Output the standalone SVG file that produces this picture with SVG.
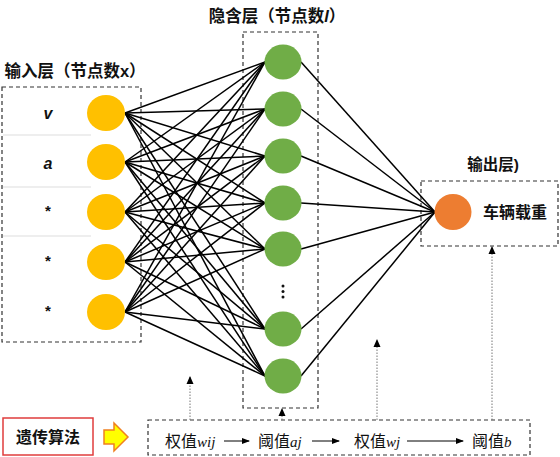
<svg xmlns="http://www.w3.org/2000/svg" width="560" height="457" viewBox="0 0 560 457">
<defs>
<style>
.box{fill:none;stroke:#333;stroke-width:1.2;stroke-dasharray:4,3}
.t{font-family:"Liberation Sans","Noto Sans CJK SC",sans-serif;font-weight:bold;fill:#111}
.n{font-family:"Liberation Sans","Noto Sans CJK SC",sans-serif;fill:#111;font-size:16px}
.v{font-family:"Liberation Serif","Noto Sans CJK SC",serif;font-style:italic;font-size:15px}
.in{fill:#FFC000}
.hid{fill:#70AD47}
.c line{stroke:#000;stroke-width:1.5}
.dot{stroke:#777;stroke-width:1;stroke-dasharray:1.5,1.5;fill:none}
.sep{stroke:#ddd;stroke-width:1}
.ar{stroke:#000;stroke-width:1;fill:none}
</style>
<marker id="ah" markerWidth="8" markerHeight="8" refX="7" refY="4" orient="auto" markerUnits="userSpaceOnUse">
<path d="M0,1 L8,4 L0,7 Z" fill="#000"/>
</marker>
<marker id="au" markerWidth="8" markerHeight="8" refX="7" refY="4" orient="auto" markerUnits="userSpaceOnUse">
<path d="M0,0.5 L8,4 L0,7.5 Z" fill="#000"/>
</marker>
</defs>
<rect width="560" height="457" fill="#fff"/>

<!-- titles -->
<text class="t" x="75" y="77" font-size="16.5" text-anchor="middle">输入层（节点数x）</text>
<text class="t" x="277" y="22" font-size="16.5" text-anchor="middle">隐含层（节点数<tspan font-style="italic">l</tspan>）</text>
<text class="t" x="493" y="170" font-size="15.5" text-anchor="middle">输出层)</text>

<!-- boxes -->
<g id="input-layer">
<rect class="box" x="2" y="87" width="139" height="255"/>
<line class="sep" x1="3" y1="135" x2="91" y2="135"/>
<line class="sep" x1="3" y1="187" x2="91" y2="187"/>
<line class="sep" x1="3" y1="236" x2="91" y2="236"/>
<text class="t" x="48" y="119" font-size="16" font-style="italic" text-anchor="middle">v</text>
<text class="t" x="48" y="169" font-size="16" font-style="italic" text-anchor="middle">a</text>
<text class="t" x="48" y="216" font-size="15" text-anchor="middle">*</text>
<text class="t" x="48" y="266" font-size="15" text-anchor="middle">*</text>
<text class="t" x="48" y="316" font-size="15" text-anchor="middle">*</text>
</g>
<rect class="box" x="243" y="32" width="75" height="376"/>
<rect class="box" x="421" y="181" width="137" height="65"/>

<!-- connectors -->
<g id="connectors" class="c">
<line x1="125" y1="113" x2="265" y2="62"/><line x1="125" y1="113" x2="265" y2="109"/><line x1="125" y1="113" x2="265" y2="156"/><line x1="125" y1="113" x2="265" y2="203"/><line x1="125" y1="113" x2="265" y2="249"/><line x1="125" y1="113" x2="265" y2="329"/><line x1="125" y1="113" x2="265" y2="376"/>
<line x1="125" y1="162" x2="265" y2="62"/><line x1="125" y1="162" x2="265" y2="109"/><line x1="125" y1="162" x2="265" y2="156"/><line x1="125" y1="162" x2="265" y2="203"/><line x1="125" y1="162" x2="265" y2="249"/><line x1="125" y1="162" x2="265" y2="329"/><line x1="125" y1="162" x2="265" y2="376"/>
<line x1="125" y1="212" x2="265" y2="62"/><line x1="125" y1="212" x2="265" y2="109"/><line x1="125" y1="212" x2="265" y2="156"/><line x1="125" y1="212" x2="265" y2="203"/><line x1="125" y1="212" x2="265" y2="249"/><line x1="125" y1="212" x2="265" y2="329"/><line x1="125" y1="212" x2="265" y2="376"/>
<line x1="125" y1="262" x2="265" y2="62"/><line x1="125" y1="262" x2="265" y2="109"/><line x1="125" y1="262" x2="265" y2="156"/><line x1="125" y1="262" x2="265" y2="203"/><line x1="125" y1="262" x2="265" y2="249"/><line x1="125" y1="262" x2="265" y2="329"/><line x1="125" y1="262" x2="265" y2="376"/>
<line x1="125" y1="312" x2="265" y2="62"/><line x1="125" y1="312" x2="265" y2="109"/><line x1="125" y1="312" x2="265" y2="156"/><line x1="125" y1="312" x2="265" y2="203"/><line x1="125" y1="312" x2="265" y2="249"/><line x1="125" y1="312" x2="265" y2="329"/><line x1="125" y1="312" x2="265" y2="376"/>
<line x1="301" y1="62" x2="435" y2="212"/><line x1="301" y1="109" x2="435" y2="212"/><line x1="301" y1="156" x2="435" y2="212"/><line x1="301" y1="203" x2="435" y2="212"/><line x1="301" y1="249" x2="435" y2="212"/><line x1="301" y1="329" x2="435" y2="212"/><line x1="301" y1="376" x2="435" y2="212"/>
</g>

<!-- input nodes -->
<g id="in1"><ellipse class="in" cx="106" cy="113" rx="19" ry="18"/></g>
<g id="in2"><ellipse class="in" cx="106" cy="162" rx="19" ry="18"/></g>
<g id="in3"><ellipse class="in" cx="106" cy="212" rx="19" ry="18"/></g>
<g id="in4"><ellipse class="in" cx="106" cy="262" rx="19" ry="18"/></g>
<g id="in5"><ellipse class="in" cx="106" cy="312" rx="19" ry="18"/></g>

<!-- hidden nodes -->
<g id="h1"><ellipse class="hid" cx="283" cy="62" rx="18.5" ry="17.5"/></g>
<g id="h2"><ellipse class="hid" cx="283" cy="109" rx="18.5" ry="17.5"/></g>
<g id="h3"><ellipse class="hid" cx="283" cy="156" rx="18.5" ry="17.5"/></g>
<g id="h4"><ellipse class="hid" cx="283" cy="203" rx="18.5" ry="17.5"/></g>
<g id="h5"><ellipse class="hid" cx="283" cy="249" rx="18.5" ry="17.5"/></g>
<g id="hdots"><circle cx="283" cy="286" r="1.5" fill="#111"/><circle cx="283" cy="291.5" r="1.5" fill="#111"/><circle cx="283" cy="297" r="1.5" fill="#111"/></g>
<g id="h6"><ellipse class="hid" cx="283" cy="329" rx="18.5" ry="17.5"/></g>
<g id="h7"><ellipse class="hid" cx="283" cy="376" rx="18.5" ry="17.5"/></g>

<!-- output -->
<g id="out"><ellipse cx="453" cy="212" rx="18.5" ry="18" fill="#ED7D31"/>
<text class="t" x="515" y="218" font-size="16" text-anchor="middle">车辆载重</text></g>

<!-- GA -->
<g id="ga"><rect x="3" y="418" width="90" height="37" fill="#fff" stroke="#E03C3C" stroke-width="1.5"/>
<text class="t" x="48" y="443" font-size="16" text-anchor="middle">遗传算法</text></g>
<g id="bigarrow"><path d="M104,430 L114,430 L114,423 L128,437 L114,451 L114,444 L104,444 Z" fill="#FFFF00" stroke="#F08020" stroke-width="1.5"/></g>

<g id="params">
<rect class="box" x="148" y="420" width="382" height="35"/>
<text class="n" x="165" y="447">权值<tspan class="v">wij</tspan></text>
<text class="n" x="258" y="447">阈值<tspan class="v">aj</tspan></text>
<text class="n" x="354" y="447">权值<tspan class="v">wj</tspan></text>
<text class="n" x="472" y="447">阈值<tspan class="v">b</tspan></text>
</g>
<g id="flow">
<line class="ar" x1="224" y1="441" x2="249" y2="441" marker-end="url(#ah)"/>
<line class="ar" x1="312" y1="441" x2="339" y2="441" marker-end="url(#ah)"/>
<line class="ar" x1="407" y1="441" x2="463" y2="441" marker-end="url(#ah)"/>
<line class="dot" x1="190" y1="420" x2="190" y2="377" marker-end="url(#au)"/>
<line class="dot" x1="282" y1="420" x2="282" y2="409" marker-end="url(#au)"/>
<line class="dot" x1="377" y1="420" x2="377" y2="340" marker-end="url(#au)"/>
<line class="dot" x1="492" y1="420" x2="492" y2="247" marker-end="url(#au)"/>
</g>
</svg>
